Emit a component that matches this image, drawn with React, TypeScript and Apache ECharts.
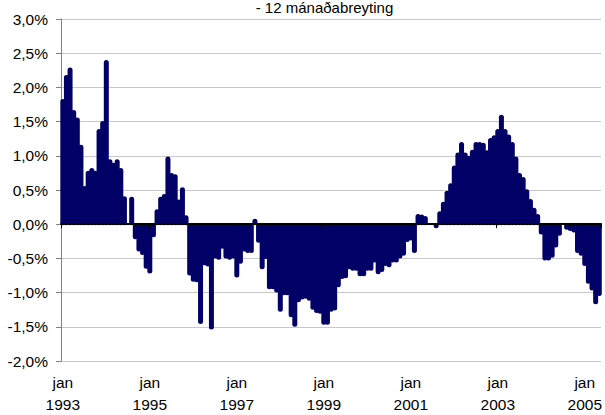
import React, { useEffect, useRef } from "react";
import * as echarts from "echarts";

// Monthly 12-month change (%), Jan 1993 - May 2005
const startYear = 1993;
const monthNames = ["jan", "feb", "mar", "apr", "maí", "jún", "júl", "ágú", "sep", "okt", "nóv", "des"];

const values1993_1996 = [
  1.83, 2.18, 2.29, 1.67, 1.56, 1.16, 0.56, 0.78, 0.82, 0.78, 1.39, 1.51,
  2.4, 0.95, 0.9, 0.95, 0.82, 0.41, -0.03, 0.4, -0.22, -0.4, -0.45, -0.65,
  -0.72, -0.19, 0.22, 0.4, 0.44, 0.99, 0.75, 0.73, 0.36, 0.54, 0.13, -0.75,
  -0.84, -0.85, -1.46, -0.6, -0.62, -1.54, -0.5, -0.52, -0.36, -0.5, -0.52, -0.5,
];
const values1997_2000 = [
  -0.78, -0.58, -0.4, -0.42, -0.42, 0.08, -0.27, -0.66, -0.51, -0.95, -0.95, -1.0,
  -1.28, -1.04, -1.04, -1.36, -1.5, -1.14, -1.1, -1.09, -1.12, -1.25, -1.3, -1.31,
  -1.47, -1.47, -1.28, -1.26, -0.92, -0.8, -0.79, -0.66, -0.68, -0.68, -0.76, -0.76,
  -0.68, -0.68, -0.56, -0.73, -0.7, -0.61, -0.63, -0.56, -0.56, -0.5, -0.46, -0.26,
];
const values2001_2005 = [
  -0.24, -0.42, 0.15, 0.14, 0.12, -0.05, 0.05, -0.06, 0.19, 0.33, 0.49, 0.6,
  0.86, 1.05, 1.2, 1.05, 1.0, 1.09, 1.2, 1.2, 1.19, 1.08, 1.26, 1.3,
  1.39, 1.6, 1.39, 1.31, 1.2, 0.99, 0.75, 0.69, 0.51, 0.37, 0.24, 0.15,
  -0.15, -0.53, -0.53, -0.49, -0.34, -0.17, 0.01, -0.08, -0.1, -0.12, -0.42, -0.46,
  -0.61, -0.87, -0.97, -1.17, -1.05,
];
const values = [...values1993_1996, ...values1997_2000, ...values2001_2005];

const categories = values.map(
  (_, i) => `${monthNames[i % 12]} ${startYear + Math.floor(i / 12)}`
);

const titleText = "- 12 mánaðabreyting";
const yMin = -2;
const yMax = 3;
const yStep = 0.5;

const FONT = "'Liberation Sans', Arial, sans-serif";
const BAR_COLOR = "#000066";

export default function App() {
  const ref = useRef<HTMLDivElement>(null);

  useEffect(() => {
    if (!ref.current) return;
    const chart = echarts.init(ref.current, undefined, { renderer: "svg" });
    const option: any = {
      animation: false,
      backgroundColor: "#ffffff",
      textStyle: { fontFamily: FONT },
      grid: { left: 61, top: 19, width: 545, bottom: 53, containLabel: false },
      graphic: [
        {
          type: "text",
          x: 324.5,
          y: 0,
          style: {
            text: titleText,
            fontSize: 15,
            fontFamily: FONT,
            fill: "#000",
            align: "center",
            verticalAlign: "top",
          },
        },
      ],
      xAxis: [
        {
          type: "category",
          data: categories,
          position: "bottom",
          boundaryGap: true,
          axisLine: { show: false, onZero: false },
          axisTick: { show: false },
          splitLine: { show: false },
          axisLabel: {
            interval: 23,
            margin: 10,
            fontSize: 15.5,
            lineHeight: 22,
            color: "#000",
            fontFamily: FONT,
            formatter: (v: string) => v.replace(" ", "\n"),
          },
        },
        {
          type: "category",
          data: categories,
          position: "bottom",
          boundaryGap: true,
          z: 10,
          axisLine: { show: true, onZero: true, lineStyle: { color: "#000", width: 2 } },
          axisTick: { show: true, interval: 23, length: 4, lineStyle: { color: "#000", width: 1 } },
          axisLabel: { show: false },
          splitLine: { show: false },
        },
      ],
      yAxis: {
        type: "value",
        min: yMin,
        max: yMax,
        interval: yStep,
        axisLine: { show: true, lineStyle: { color: "#808080", width: 1 } },
        axisTick: { show: true, length: 5, lineStyle: { color: "#808080" } },
        splitLine: { show: true, lineStyle: { color: "#c8c8c8", width: 1 } },
        axisLabel: {
          margin: 13,
          fontSize: 15.5,
          color: "#000",
          fontFamily: FONT,
          formatter: (v: number) => v.toFixed(1).replace(".", ",") + "%",
        },
      },
      series: [
        {
          type: "custom",
          xAxisIndex: 0,
          yAxisIndex: 0,
          z: 2,
          encode: { x: 0, y: 1 },
          data: values.map((v, i) => [i, v]),
          renderItem: (params: any, api: any) => {
            const idx = api.value(0);
            const v = api.value(1);
            const base = api.coord([idx, 0]);
            const tip = api.coord([idx, v]);
            const dir = tip[1] < base[1] ? -1 : 1;
            const r = 2.5;
            const y1 = base[1] + dir * 1.5;
            let y2 = tip[1] - dir * r;
            if ((y2 - y1) * dir < 0) y2 = y1;
            return {
              type: "line",
              shape: { x1: base[0], y1, x2: base[0], y2 },
              style: { stroke: BAR_COLOR, lineWidth: 5, lineCap: "round" },
            };
          },
        },
      ],
    };
    chart.setOption(option);
    return () => chart.dispose();
  }, []);

  return (
    <div
      ref={ref}
      style={{ position: "fixed", left: 0, top: 0, width: 605, height: 415 }}
    />
  );
}
